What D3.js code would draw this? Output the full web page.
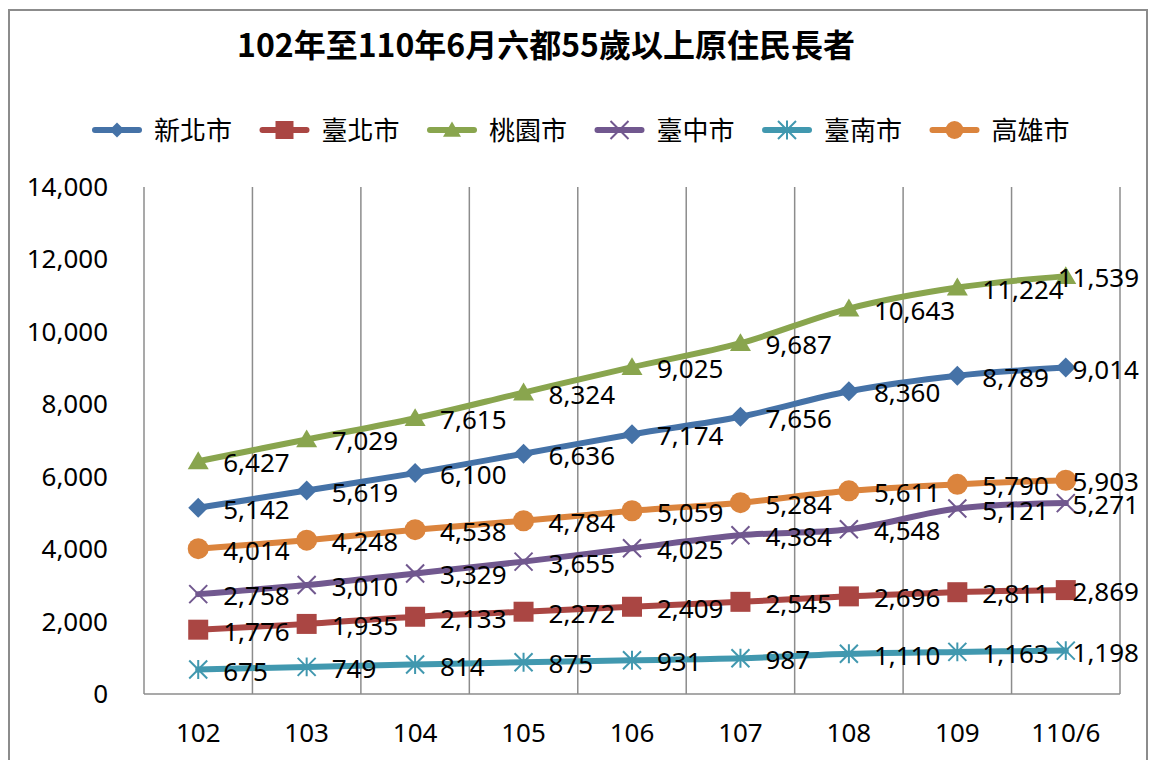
<!DOCTYPE html>
<html>
<head>
<meta charset="utf-8">
<script src="https://cdnjs.cloudflare.com/ajax/libs/d3/7.8.5/d3.min.js"></script>
<style>
  body { margin: 0; background: #fff; }
  svg { display: block; }
</style>
</head>
<body>
<div id="chart"></div>
<script>
// data
var years = ["102", "103", "104", "105", "106", "107", "108", "109", "110/6"];
var seriesNames = ["新北市", "臺北市", "桃園市", "臺中市", "臺南市", "高雄市"];
var xinbei = [5142, 5619, 6100, 6636, 7174, 7656, 8360, 8789, 9014];
var taipei = [1776, 1935, 2133, 2272, 2409, 2545, 2696, 2811, 2869];
var taoyuan = [6427, 7029, 7615, 8324, 9025, 9687, 10643, 11224, 11539];
var taichung = [2758, 3010, 3329, 3655, 4025, 4384, 4548, 5121, 5271];
var tainan = [675, 749, 814, 875, 931, 987, 1110, 1163, 1198];
var kaohsiung = [4014, 4248, 4538, 4784, 5059, 5284, 5611, 5790, 5903];
var yTicks = [0, 2000, 4000, 6000, 8000, 10000, 12000, 14000];

var colors = ["#4572A7", "#AA4643", "#89A54E", "#71588F", "#4198AF", "#DB843D"];
var markers = ["diamond", "square", "triangle", "x", "star", "circle"];
var allValues = [xinbei, taipei, taoyuan, taichung, tainan, kaohsiung];

var series = seriesNames.map(function (n, i) {
  return {name: n, values: allValues[i], color: colors[i], marker: markers[i]};
});

var W = 1149, H = 760;
var plot = {left: 144, right: 1120, top: 187, bottom: 694};
var numFont = "'Noto Sans', 'Noto Sans CJK TC', sans-serif";
var cjkFont = "'Noto Sans CJK TC', 'Noto Sans', sans-serif";
var gridColor = "#8c8c8c";

var svg = d3.select("#chart").append("svg")
  .attr("width", W)
  .attr("height", H);

// outer chart border
svg.append("rect")
  .attr("x", 9).attr("y", 10)
  .attr("width", 1138).attr("height", 770)
  .attr("fill", "none")
  .attr("stroke", gridColor)
  .attr("stroke-width", 2);

var x = d3.scaleBand().domain(years).range([plot.left, plot.right]);
var y = d3.scaleLinear().domain([0, 14000]).range([plot.bottom, plot.top]);
function cx(c) { return x(c) + x.bandwidth() / 2; }

// vertical gridlines on category edges
var edges = years.map(function (c) { return x(c); }).concat([plot.right]);
svg.append("g").selectAll("line")
  .data(edges)
  .enter().append("line")
  .attr("x1", function (d) { return d; })
  .attr("x2", function (d) { return d; })
  .attr("y1", plot.top)
  .attr("y2", plot.bottom)
  .attr("stroke", gridColor)
  .attr("stroke-width", 1.5);

// x axis line
svg.append("line")
  .attr("x1", plot.left).attr("x2", plot.right)
  .attr("y1", plot.bottom).attr("y2", plot.bottom)
  .attr("stroke", gridColor)
  .attr("stroke-width", 1.5);

// y tick labels
svg.append("g").selectAll("text")
  .data(yTicks)
  .enter().append("text")
  .attr("x", 108)
  .attr("y", function (d) { return y(d) + 9; })
  .attr("text-anchor", "end")
  .attr("font-family", numFont)
  .attr("font-size", 26)
  .attr("fill", "#000")
  .text(d3.format(","));

// x tick labels
svg.append("g").selectAll("text")
  .data(years)
  .enter().append("text")
  .attr("x", cx)
  .attr("y", 742)
  .attr("text-anchor", "middle")
  .attr("font-family", numFont)
  .attr("font-size", 26)
  .attr("fill", "#000")
  .text(function (d) { return d; });

// marker shapes
function markerPath(type, s) {
  var h = s / 2;
  if (type === "diamond") {
    return "M0," + (-h) + "L" + h + ",0L0," + h + "L" + (-h) + ",0Z";
  }
  if (type === "square") {
    return "M" + (-h) + "," + (-h) + "h" + s + "v" + s + "h" + (-s) + "Z";
  }
  if (type === "triangle") {
    return "M0," + (-h * 0.95) + "L" + h + "," + (h * 0.75) + "L" + (-h) + "," + (h * 0.75) + "Z";
  }
  if (type === "circle") {
    return d3.symbol(d3.symbolCircle, Math.PI * h * h)();
  }
  if (type === "x") {
    return "M" + (-h) + "," + (-h) + "L" + h + "," + h + "M" + h + "," + (-h) + "L" + (-h) + "," + h;
  }
  // star: x plus vertical bar
  return "M" + (-h) + "," + (-h) + "L" + h + "," + h + "M" + h + "," + (-h) + "L" + (-h) + "," + h +
    "M0," + (-h * 1.05) + "L0," + (h * 1.05);
}
var markerSize = {diamond: 20, square: 20, triangle: 21, circle: 21, x: 18, star: 18};
var stroked = {x: true, star: true};

function drawMarker(g, type, color, size) {
  var p = g.append("path").attr("d", markerPath(type, size));
  if (stroked[type]) {
    p.attr("fill", "none").attr("stroke", color).attr("stroke-width", 2);
  } else {
    p.attr("fill", color);
  }
  return p;
}

var line = d3.line()
  .x(function (d, i) { return cx(years[i]); })
  .y(function (d) { return y(d); })
  .curve(d3.curveCatmullRom.alpha(0));

var seriesG = svg.append("g").selectAll("g")
  .data(series)
  .enter().append("g");

seriesG.append("path")
  .attr("d", function (s) { return line(s.values); })
  .attr("fill", "none")
  .attr("stroke", function (s) { return s.color; })
  .attr("stroke-width", 6)
  .attr("stroke-linejoin", "round")
  .attr("stroke-linecap", "round");

seriesG.each(function (s) {
  var g = d3.select(this);
  s.values.forEach(function (v, i) {
    var mg = g.append("g")
      .attr("transform", "translate(" + cx(years[i]) + "," + y(v) + ")");
    drawMarker(mg, s.marker, s.color, markerSize[s.marker]);
  });
});

// data labels, to the right of each point, kept inside the chart area
var labelsG = svg.append("g");
series.forEach(function (s) {
  s.values.forEach(function (v, i) {
    var t = labelsG.append("text")
      .attr("font-family", numFont)
      .attr("font-size", 26)
      .attr("fill", "#000")
      .attr("y", y(v) + 11)
      .text(d3.format(",")(v));
    var w = t.node().getComputedTextLength();
    var lx = Math.min(cx(years[i]) + 25, 1139 - w);
    t.attr("x", lx);
  });
});

// title
svg.append("text")
  .attr("x", 546)
  .attr("y", 57)
  .attr("text-anchor", "middle")
  .attr("font-family", cjkFont)
  .attr("font-weight", "bold")
  .attr("font-size", 32)
  .attr("fill", "#000")
  .text("102年至110年6月六都55歲以上原住民長者");

// legend
var legend = svg.append("g").selectAll("g")
  .data(series)
  .enter().append("g")
  .attr("transform", function (d, i) { return "translate(" + (95 + i * 167.5) + ",130)"; });

legend.append("line")
  .attr("x1", 0).attr("x2", 44)
  .attr("y1", 0).attr("y2", 0)
  .attr("stroke", function (d) { return d.color; })
  .attr("stroke-width", 6)
  .attr("stroke-linecap", "round");

legend.each(function (s) {
  var mg = d3.select(this).append("g").attr("transform", "translate(22,0)");
  drawMarker(mg, s.marker, s.color, s.marker === "diamond" ? 15 : 18);
});

legend.append("text")
  .attr("x", 59)
  .attr("y", 10)
  .attr("font-family", cjkFont)
  .attr("font-size", 26)
  .attr("fill", "#000")
  .text(function (d) { return d.name; });
</script>
</body>
</html>
